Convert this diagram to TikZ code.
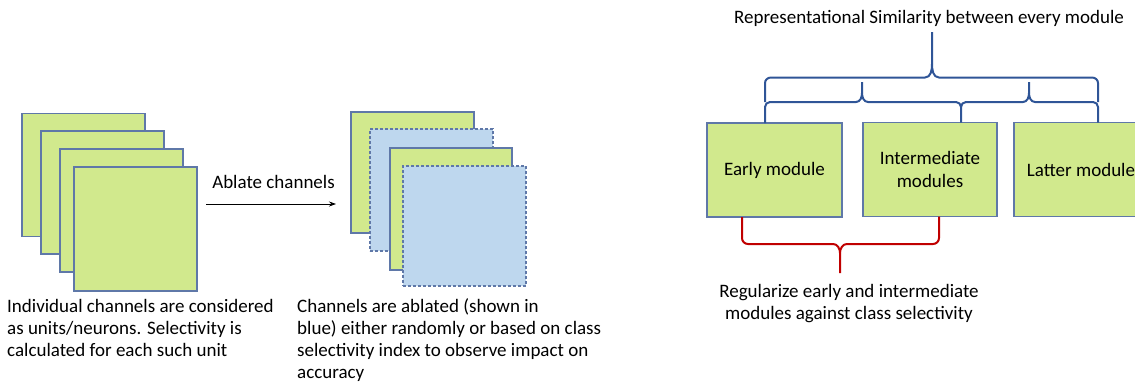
\documentclass[tikz,border=0pt]{standalone}
\usepackage{fontspec}
\setmainfont{Carlito}
\usetikzlibrary{arrows.meta,calc}
\definecolor{boxgreen}{RGB}{209,233,141}
\definecolor{boxblue}{RGB}{190,215,238}
\definecolor{edgeblue}{RGB}{95,120,168}
\definecolor{braceblue}{RGB}{47,85,151}
\definecolor{bracered}{RGB}{192,0,0}
\tikzset{
  chan/.style={draw=edgeblue, fill=boxgreen, line width=1.2pt, inner sep=0pt, outer sep=0pt,
    minimum width=123pt, minimum height=123pt},
  ablated/.style={chan, fill=boxblue, dash pattern=on 3pt off 2pt},
  module/.style={draw=edgeblue, fill=boxgreen, line width=1.2pt, inner sep=0pt, outer sep=0pt,
    minimum width=134pt, minimum height=94pt, align=center, font=\fontsize{19}{23}\selectfont},
  lbl/.style={inner sep=0pt, font=\fontsize{19}{22.5}\selectfont},
  bbrace/.style={draw=braceblue, line width=2pt, line join=round},
  rbrace/.style={draw=bracered, line width=2pt, line join=round},
}
\begin{document}
\begin{tikzpicture}[x=1pt,y=-1pt]
\useasboundingbox (0,0) rectangle (1135,381);
% left stack
\node[chan] (l1) at (83.5,175) {};
\node[chan] (l2) at (102.5,192.5) {};
\node[chan] (l3) at (121.5,210.5) {};
\node[chan, minimum height=124pt] (l4) at (135.5,229) {};
% arrow
\coordinate (a1) at (206,204);
\coordinate (a2) at (336,204);
\draw[-{Stealth[length=7pt,width=5pt]}, line width=0.8pt] (a1) -- (a2);
\node[lbl, anchor=base] (ablate) at (273.5,188) {Ablate channels};
% middle stack
\node[chan, minimum height=121pt] (m1) at (412.5,172.5) {};
\node[ablated, minimum height=122pt] (m2) at (431.5,190) {};
\node[chan, minimum height=122pt, minimum width=122pt] (m3) at (451,209) {};
\node[ablated, minimum height=120pt] (m4) at (464.5,226) {};
% captions
\node[lbl, anchor=base west] (capl) at (7,312) {\parbox[t]{300pt}{\raggedright\baselineskip=22pt
Individual channels are considered\\as units/neurons. Selectivity is\\calculated for each such unit}};
\node[lbl, anchor=base west] (capm) at (297,312) {\parbox[t]{340pt}{\raggedright\baselineskip=22pt
Channels are ablated (shown in\\blue) either randomly or based on class\\selectivity index to observe impact on\\accuracy}};
% modules
\node[module, minimum width=135pt] (early) at (774.5,170) {Early module};
\node[module] (inter) at (930,169.5) {Intermediate\\modules};
\node[module] (latter) at (1081,169.5) {Latter module};
% title
\node[lbl, anchor=base] (title) at (929,23) {Representational Similarity between every module};
% blue braces
\coordinate (e1) at ($(early.north)+(-9.5,0)$);
\coordinate (e2) at ($(inter.north)+(31,0)$);
\coordinate (e3) at ($(latter.north)+(17,0)$);
\draw[bbrace] (e1|-0,102) -- (e1|-0,83) to[out=90,in=180] (771,77.5) -- (925,77.5)
  to[out=0,in=-90] (932,64) -- (932,32);
\draw[bbrace] (932,64) to[out=-90,in=180] (939,77.5) -- (1092,77.5)
  to[out=0,in=90] (1098,83) -- (e3|-0,102);
\draw[bbrace] (e1) -- (765,107) to[out=90,in=180] (770,102) -- (856,102)
  to[out=0,in=-90] (862,93) -- (862,82);
\draw[bbrace] (862,93) to[out=-90,in=180] (868,102) -- (956,102)
  to[out=0,in=90] (961,107) -- (e2);
\draw[bbrace] (961,107) to[out=90,in=180] (966,102) -- (1023,102)
  to[out=0,in=-90] (1029,93) -- (1029,82);
\draw[bbrace] (1029,93) to[out=-90,in=180] (1035,102) -- (1093,102)
  to[out=0,in=90] (1098,107) -- (e3);
% red brace
\coordinate (r1) at ($(early.south)+(-32.5,0)$);
\coordinate (r2) at ($(inter.south)+(9,0)$);
\draw[rbrace] (r1) -- (742,238) to[out=-90,in=180] (748,244) -- (833,244)
  to[out=0,in=90] (840,253) -- (840,273);
\draw[rbrace] (840,253) to[out=90,in=180] (847,244) -- (933,244)
  to[out=0,in=-90] (939,238) -- (r2);
\node[lbl, anchor=base] (reg) at (849,297) {\parbox[t]{320pt}{\centering\baselineskip=22pt
Regularize early and intermediate\\modules against class selectivity}};
\end{tikzpicture}
\end{document}
